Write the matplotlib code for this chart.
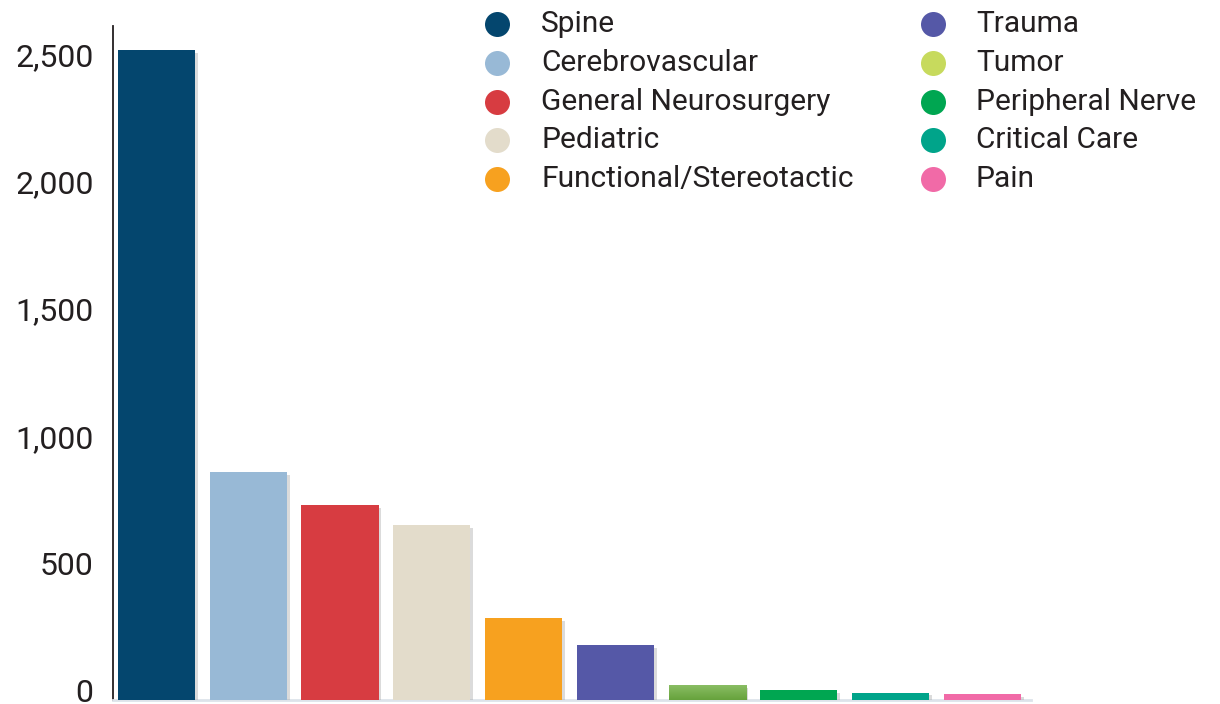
import matplotlib
matplotlib.use("Agg")
import numpy as np
import matplotlib.pyplot as plt
from matplotlib.lines import Line2D
from matplotlib import patheffects as pe
from matplotlib.transforms import ScaledTranslation

categories = ["Spine", "Cerebrovascular", "General Neurosurgery", "Pediatric",
              "Functional/Stereotactic", "Trauma", "Tumor", "Peripheral Nerve",
              "Critical Care", "Pain"]
values = [2553, 895, 766, 687, 322, 216, 59, 39, 29, 24]
bar_colors = ["#04466e", "#98b9d6", "#d73c41", "#e3dccb", "#f7a11f",
              "#5558a7", "#76ae4a", "#00a651", "#00a48a", "#f16aa7"]
legend_colors = ["#04466e", "#98b9d6", "#d73c41", "#e3dccb", "#f7a11f",
                 "#5558a7", "#c7da5d", "#00a651", "#00a48a", "#f16aa7"]
yticks = [0, 500, 1000, 1500, 2000, 2500]
ytick_labels = ["0", "500", "1,000", "1,500", "2,000", "2,500"]

plt.rcParams['font.family'] = ['Roboto', 'DejaVu Sans']
text_color = "#231f20"

W, H = 1220, 704
fig = plt.figure(figsize=(W / 100, H / 100), dpi=100)
ax = fig.add_axes([113 / W, 4 / H, (1031 - 113) / W, (700 - 26) / H])

x = list(range(len(categories)))
bars = ax.bar(x, values, width=0.84, color=bar_colors, zorder=3)
for b in bars:
    b.set_path_effects([pe.SimplePatchShadow(offset=(2, -2), shadow_rgbFace="#999999", alpha=0.35),
                        pe.Normal()])

# gradient on the Tumor bar
tb = bars[6]
grad = np.linspace(0, 1, 64).reshape(-1, 1)
from matplotlib.colors import LinearSegmentedColormap
cmap = LinearSegmentedColormap.from_list("tg", ["#66a23c", "#8cbf66"])
im = ax.imshow(grad, cmap=cmap, aspect='auto', origin='lower', zorder=4,
               extent=[tb.get_x(), tb.get_x() + tb.get_width(), 0, tb.get_height()])
im.set_clip_path(tb)

ax.set_xlim(-0.474, 9.53)
ax.set_ylim(0, 2647)
ax.set_yticks(yticks)
ax.set_yticklabels(ytick_labels, fontsize=23, color=text_color)
ax.tick_params(axis='y', length=0, pad=14)
ax.set_xticks([])
for lab in ax.get_yticklabels():
    lab.set_transform(lab.get_transform() + ScaledTranslation(0, 9 / 100, fig.dpi_scale_trans))

for s in ["top", "right"]:
    ax.spines[s].set_visible(False)
ax.spines["left"].set_color("#231f20")
ax.spines["left"].set_linewidth(1.3)
ax.spines["bottom"].set_color("#dde3ea")
ax.spines["bottom"].set_linewidth(2)

# legend
col_x = [(497, 541), (933, 976)]
row_y = [24, 63, 102, 140, 179]
for i, (cat, col) in enumerate(zip(categories, legend_colors)):
    c = i // 5
    r = i % 5
    mx, tx = col_x[c]
    yy = 1 - row_y[r] / H
    fig.add_artist(Line2D([mx / W], [yy], marker='o', markersize=18, color=col,
                          markeredgewidth=0, linestyle='none', transform=fig.transFigure))
    fig.text(tx / W, yy, cat, fontsize=21.5, color=text_color, va='center', ha='left')

fig.savefig("out.png", dpi=100)
